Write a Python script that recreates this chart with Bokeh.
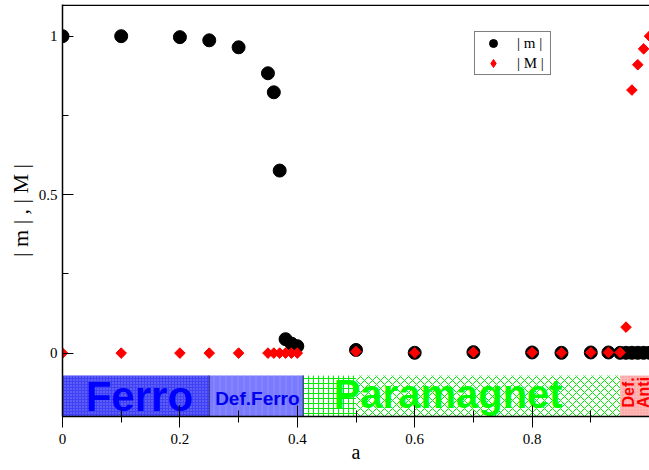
import math
from bokeh.plotting import figure
from bokeh.models import Range1d, FixedTicker, Legend, LegendItem, Span, CustomJSTickFormatter
from bokeh.embed import file_html
from bokeh.resources import INLINE
from bokeh.core.properties import value

# |m| data (black circles)
a_m = [0, 0.1, 0.2, 0.25, 0.3, 0.35, 0.36, 0.37, 0.38, 0.39, 0.40, 0.5, 0.6, 0.7,
       0.8, 0.85, 0.9, 0.93, 0.95, 0.96, 0.97, 0.98, 0.99, 1.0]
m_abs = [1.0, 1.0, 0.997, 0.987, 0.965, 0.883, 0.823, 0.576, 0.044, 0.03, 0.022,
         0.01, 0.001, 0.003, 0.002, 0.001, 0.002, 0.002, 0.001, 0.001, 0.001, 0.001,
         0.001, 0.001]
# |M| data (red diamonds)
a_M = [0, 0.1, 0.2, 0.25, 0.3, 0.35, 0.36, 0.37, 0.38, 0.39, 0.40, 0.5, 0.6, 0.7,
       0.8, 0.85, 0.9, 0.93, 0.95, 0.96, 0.97, 0.98, 0.99, 1.0]
M_abs = [0, 0, 0, 0, 0, 0, 0, 0, 0, 0, 0, 0.005, 0.001, 0.003, 0.002, 0.001, 0.002,
         0.002, 0.002, 0.082, 0.83, 0.91, 0.96, 1.0]

# phase bands
band_left = [0.0, 0.25, 0.41, 0.50, 0.95]
band_right = [0.25, 0.41, 0.50, 0.95, 1.0]
band_names = ["Ferro", "Def.Ferro", "", "Paramagnet", "Def. Anti"]

x_ticks = [0, 0.2, 0.4, 0.6, 0.8]
x_minor = [0.1, 0.3, 0.5, 0.7, 0.9]
y_ticks = [0, 0.5, 1.0]
y_minor = [0.25, 0.75]

SERIF = "Liberation Serif"
SANS = "Liberation Sans"

p = figure(width=649, height=470, x_range=Range1d(0, 1.0), y_range=Range1d(-0.2, 1.1),
           output_backend="svg", toolbar_location=None,
           min_border_left=62, min_border_right=0, min_border_top=4, min_border_bottom=54)
p.outline_line_color = None
p.xgrid.visible = False
p.ygrid.visible = False

band_top = -0.0705
band_bottom = -0.2

# Ferro
p.quad(left=band_left[0], right=band_right[0], top=band_top, bottom=band_bottom,
       fill_color="#4040f4", line_color=None, hatch_pattern="dot",
       hatch_color="#8a8aff", hatch_scale=3, hatch_weight=1)
# Def.Ferro
p.quad(left=band_left[1], right=band_right[1], top=band_top, bottom=band_bottom,
       fill_color="#7a7aff", line_color=None, hatch_pattern="vertical_line",
       hatch_color="#8e8eff", hatch_scale=6, hatch_weight=1)
# green grid
p.quad(left=band_left[2], right=band_right[2], top=band_top, bottom=band_bottom,
       fill_color="white", line_color=None, hatch_pattern="cross",
       hatch_color="#00ee00", hatch_scale=5, hatch_weight=1)
# Paramagnet crosshatch
p.quad(left=band_left[3], right=band_right[3], top=band_top, bottom=band_bottom,
       fill_color="white", line_color=None, hatch_pattern="diagonal_cross",
       hatch_color="#00ee00", hatch_scale=8, hatch_weight=1)
# Def. Anti
p.quad(left=band_left[4], right=band_right[4], top=band_top, bottom=band_bottom,
       fill_color="#ffb8b8", line_color=None, hatch_pattern="dot",
       hatch_color="#ff9090", hatch_scale=3, hatch_weight=1)

# dividers between bands
p.segment(x0=[band_right[0], band_right[1]], y0=[band_bottom, band_bottom],
          x1=[band_right[0], band_right[1]], y1=[band_top, band_top],
          line_color="#202080", line_width=1)

p.text(x=[0.131], y=[-0.137], text=[band_names[0]], text_font=value(SANS),
       text_font_style="bold", text_font_size="42px", text_color="#0000ff",
       text_align="center", text_baseline="middle")
p.text(x=[0.332], y=[-0.1447], text=[band_names[1]], text_font=value(SANS),
       text_font_style="bold", text_font_size="19px", text_color="#0000ee",
       text_align="center", text_baseline="middle")
p.text(x=[0.657], y=[-0.1305], text=[band_names[3]], text_font=value(SANS),
       text_font_style="bold", text_font_size="40px", text_color="#00ff00",
       text_align="center", text_baseline="middle")
anti_words = band_names[4].split(" ")
p.text(x=[0.965, 0.99], y=[-0.124, -0.124], text=anti_words, text_font=value(SANS),
       text_font_style="bold", text_font_size="16px", text_color="#ff0000",
       text_align="center", text_baseline="middle", angle=math.pi / 2)

r_m = p.scatter(a_m, m_abs, marker="circle", size=13, fill_color="black", line_color="black")
# diamond marker for the legend key (drawn under the rotated squares, same data)
r_M_key = p.scatter(a_M, M_abs, marker="diamond", size=9,
                    fill_color="#ff0000", line_color="#ff0000")
r_M = p.scatter(a_M, M_abs, marker="square", angle=math.pi / 4, size=7.5,
                fill_color="#ff0000", line_color="#ff0000")

p.add_layout(Span(location=1.098, dimension="width", line_color="black", line_width=1.5))

fmt = CustomJSTickFormatter(code="return String(Math.round(tick*100)/100);")
for ax in (p.xaxis, p.yaxis):
    ax.formatter = fmt
    ax.axis_line_color = "black"
    ax.axis_line_width = 1.5
    ax.major_tick_line_color = "black"
    ax.minor_tick_line_color = "black"
    ax.major_label_text_font = SERIF
    ax.major_label_text_font_size = "15px"
    ax.major_label_text_color = "black"
    ax.axis_label_text_font = SERIF
    ax.axis_label_text_font_style = "normal"
    ax.axis_label_text_color = "black"
    ax.axis_label_text_font_size = "20px"

p.yaxis.axis_label_text_font_size = "22px"
p.xaxis.ticker = FixedTicker(ticks=x_ticks, minor_ticks=x_minor)
p.yaxis.ticker = FixedTicker(ticks=y_ticks, minor_ticks=y_minor)
p.xaxis.major_tick_in = 11
p.xaxis.major_tick_out = 11
p.xaxis.minor_tick_in = 6
p.xaxis.minor_tick_out = 6
p.yaxis.major_tick_in = 11
p.yaxis.major_tick_out = 0
p.yaxis.minor_tick_in = 6
p.yaxis.minor_tick_out = 0
p.xaxis.major_label_standoff = 6
p.xaxis.axis_label_standoff = -6
p.yaxis.major_label_standoff = 5
p.yaxis.axis_label_standoff = 3
p.xaxis.axis_label = "a"
p.yaxis.axis_label = "| m | , | M |"

legend = Legend(items=[LegendItem(label="| m |", renderers=[r_m]),
                       LegendItem(label="| M |", renderers=[r_M_key])],
                location=(412, 341), orientation="vertical")
legend.label_text_font = SERIF
legend.label_text_font_size = "15px"
legend.label_text_color = "black"
legend.border_line_color = "black"
legend.border_line_width = 1
legend.background_fill_alpha = 1
legend.padding = 1
legend.margin = 0
legend.spacing = 0
legend.label_height = 20
legend.glyph_height = 20
legend.glyph_width = 34
legend.label_width = 32
legend.label_standoff = 7
p.add_layout(legend)

open("out.html", "w").write(file_html(p, INLINE))
